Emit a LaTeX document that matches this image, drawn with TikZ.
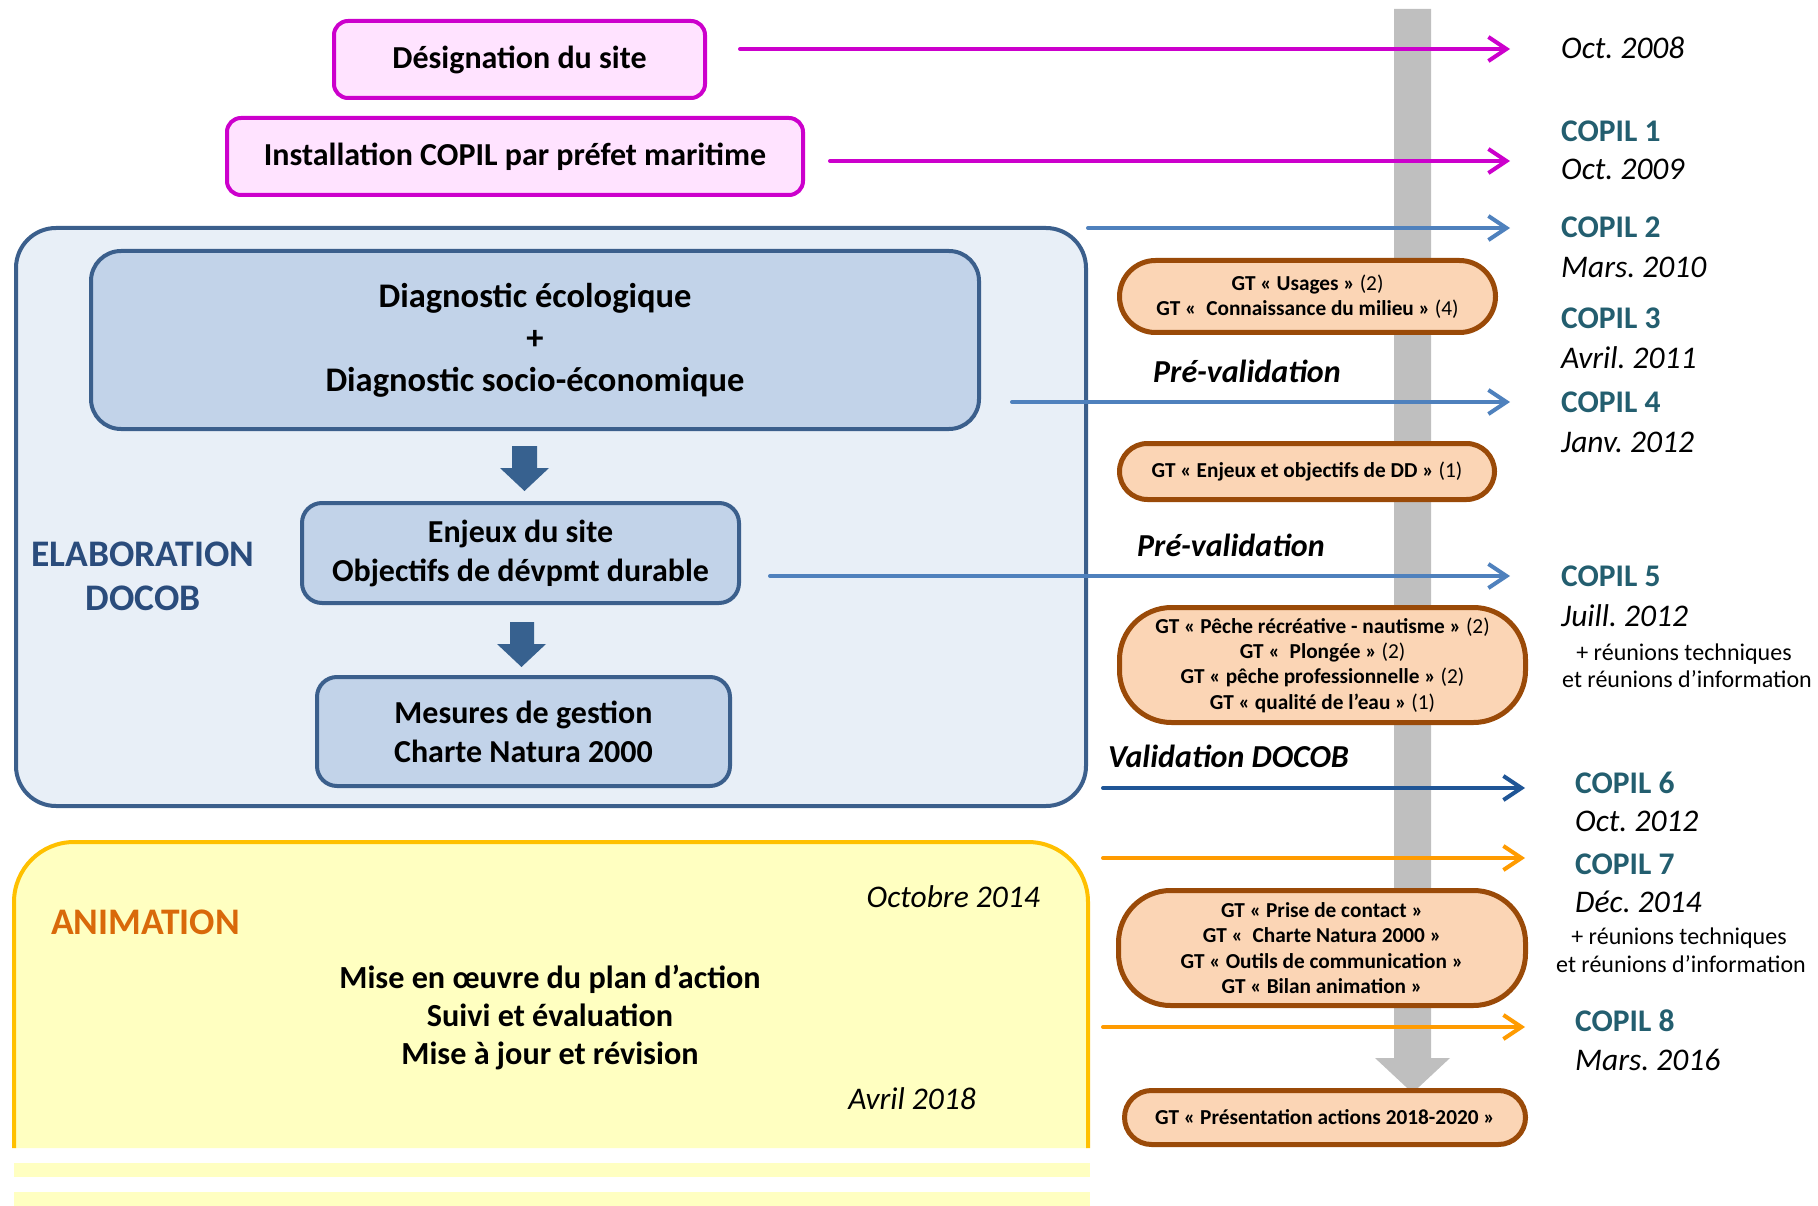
\documentclass[tikz,border=0pt]{standalone}
\usepackage{fontspec}
\setmainfont{Carlito}
\usetikzlibrary{arrows.meta}
\definecolor{magB}{HTML}{CC00CC}
\definecolor{magF}{HTML}{FFE3FF}
\definecolor{elabB}{HTML}{3B5F8C}
\definecolor{elabF}{HTML}{E8EFF7}
\definecolor{innF}{HTML}{C2D3E9}
\definecolor{darr}{HTML}{37618F}
\definecolor{lblue}{HTML}{4F81BD}
\definecolor{dblue}{HTML}{1F5596}
\definecolor{orng}{HTML}{FF9B00}
\definecolor{barG}{HTML}{BFBFBF}
\definecolor{gtB}{HTML}{9A4A08}
\definecolor{gtF}{HTML}{FBD5B5}
\definecolor{copilT}{HTML}{235E6F}
\definecolor{elabT}{HTML}{2A4C7C}
\definecolor{animT}{HTML}{D9690A}
\definecolor{yelB}{HTML}{FFC000}
\definecolor{yelF}{HTML}{FFFFC1}
\begin{document}
\frenchspacing
\begin{tikzpicture}[x=1pt,y=-1pt,
  bigtxt/.style={font=\fontsize{32}{39}\selectfont\bfseries, align=center},
  magbox/.style={draw=magB, fill=magF, line width=4pt, rounded corners=14pt, inner sep=0pt, bigtxt},
  innbox/.style={draw=elabB, fill=innF, line width=4pt, inner sep=0pt, bigtxt},
  gtbox/.style={draw=gtB, fill=gtF, line width=5pt, inner sep=0pt, align=center, font=\fontsize{21.3}{25.3}\selectfont},
  tl/.style={-{Straight Barb[length=18pt,width=24pt]}, line width=4pt, line cap=round},
  datelbl/.style={anchor=base west, inner sep=0pt, font=\fontsize{31.5}{38}\selectfont\itshape},
  copil/.style={anchor=base west, inner sep=0pt, font=\fontsize{31.5}{38}\selectfont\bfseries, text=copilT},
  reun/.style={anchor=base, inner sep=0pt, font=\fontsize{24}{27}\selectfont},
  phase/.style={anchor=base west, inner sep=0pt, font=\fontsize{32}{38}\selectfont\bfseries\itshape}
]
\useasboundingbox (0,0) rectangle (1818,1206);

% timeline bar
\fill[barG] (1394,9) -- (1431,9) -- (1431,1058) -- (1450,1058) -- (1412.5,1093) -- (1375,1058) -- (1394,1058) -- cycle;

% top magenta boxes
\node[magbox, minimum width=371pt, minimum height=77pt] (desig) at (519.5,59.5) {Désignation du site};
\node[magbox, minimum width=576pt, minimum height=77pt] (inst) at (515,156.5) {Installation COPIL par préfet maritime};

% elaboration box
\node[draw=elabB, fill=elabF, line width=4pt, rounded corners=40pt, minimum width=1070pt, minimum height=578pt] (elab) at (551,517) {};
\node[innbox, rounded corners=30pt, minimum width=888pt, minimum height=178pt, font=\fontsize{34.5}{42}\selectfont\bfseries] (diag) at (535,340) {Diagnostic écologique\\+\\Diagnostic socio-économique};
\node[innbox, rounded corners=20pt, minimum width=437pt, minimum height=100pt] (enj) at (520.5,553) {Enjeux du site\\Objectifs de dévpmt durable};
\node[innbox, rounded corners=20pt, minimum width=413pt, minimum height=109pt] (mes) at (523.5,731.5) {Mesures de gestion\\Charte Natura 2000};
\fill[darr] (512,446) -- (537,446) -- (537,468) -- (549,468) -- (524.5,491) -- (500,468) -- (512,468) -- cycle;
\fill[darr] (510,622) -- (534,622) -- (534,644) -- (546,644) -- (521.5,667) -- (497,644) -- (510,644) -- cycle;
\node[font=\fontsize{37.5}{44}\selectfont\bfseries, text=elabT, align=center, inner sep=0pt] (elabl) at (143,576) {ELABORATION\\DOCOB};

% animation box
\path[fill=yelF, draw=yelB, line width=4pt] (14,1148) [rounded corners=60pt] -- (14,842) -- (1088,842) -- (1088,1148);
\fill[yelF] (14,1163) rectangle (1090,1177);
\fill[yelF] (14,1192) rectangle (1090,1206);
\node[anchor=base west, inner sep=0pt, font=\fontsize{37.5}{44}\selectfont\bfseries, text=animT] (animl) at (51,934) {ANIMATION};
\node[anchor=base east, inner sep=0pt, font=\fontsize{31.5}{38}\selectfont\itshape] (oct14) at (1040,907) {Octobre 2014};
\node[anchor=base east, inner sep=0pt, font=\fontsize{31.5}{38}\selectfont\itshape] (avr18) at (976,1109) {Avril 2018};
\node[font=\fontsize{32.2}{38}\selectfont\bfseries, align=center, inner sep=0pt] (animt) at (550,1017) {Mise en œuvre du plan d’action\\Suivi et évaluation\\Mise à jour et révision};

% GT boxes
\node[gtbox, rounded corners=36pt, minimum width=376pt, minimum height=72pt] (gt1) at (1307.5,296.5) {\textbf{GT « Usages »} (2)\\\textbf{GT «\ \ Connaissance du milieu »} (4)};
\node[gtbox, rounded corners=28pt, minimum width=375pt, minimum height=56pt] (gt2) at (1307,471.5) {\textbf{GT « Enjeux et objectifs de DD »} (1)};
\node[gtbox, rounded corners=52pt, minimum width=406pt, minimum height=115pt] (gt3) at (1322.5,665) {\textbf{GT « Pêche récréative - nautisme »} (2)\\\textbf{GT «\ \ Plongée »} (2)\\\textbf{GT « pêche professionnelle »} (2)\\\textbf{GT « qualité de l’eau »} (1)};
\node[gtbox, rounded corners=52pt, minimum width=407pt, minimum height=115pt, font=\fontsize{21.3}{25.3}\selectfont\bfseries] (gt4) at (1322,948) {GT « Prise de contact »\\GT «\ \ Charte Natura 2000 »\\GT « Outils de communication »\\GT « Bilan animation »};
\node[gtbox, rounded corners=27pt, minimum width=401pt, minimum height=54pt, font=\fontsize{21.3}{25.3}\selectfont\bfseries] (gt5) at (1325,1117.5) {GT « Présentation actions 2018-2020 »};

% phase labels
\node[phase] (pv1) at (1153,382) {Pré-validation};
\node[phase] (pv2) at (1137,556) {Pré-validation};
\node[phase] (vd) at (1108,767) {Validation DOCOB};

% right labels
\node[datelbl] (d0) at (1561,59) {Oct. 2008};
\node[copil] (c1) at (1561,142) {COPIL 1};
\node[datelbl] (d1) at (1561,180) {Oct. 2009};
\node[copil] (c2) at (1561,238) {COPIL 2};
\node[datelbl] (d2) at (1561,278) {Mars. 2010};
\node[copil] (c3) at (1561,329) {COPIL 3};
\node[datelbl] (d3) at (1561,368) {Avril. 2011};
\node[copil] (c4) at (1561,412) {COPIL 4};
\node[datelbl] (d4) at (1561,452) {Janv. 2012};
\node[copil] (c5) at (1561,586) {COPIL 5};
\node[datelbl] (d5) at (1561,626) {Juill. 2012};
\node[reun] (r5a) at (1684,660) {+ réunions techniques};
\node[reun] (r5b) at (1687,687) {et réunions d’information};
\node[copil] (c6) at (1575,793) {COPIL 6};
\node[datelbl] (d6) at (1575,831) {Oct. 2012};
\node[copil] (c7) at (1575,874) {COPIL 7};
\node[datelbl] (d7) at (1575,912) {Déc. 2014};
\node[reun] (r7a) at (1679,944) {+ réunions techniques};
\node[reun] (r7b) at (1681,972) {et réunions d’information};
\node[copil] (c8) at (1575,1031) {COPIL 8};
\node[datelbl] (d8) at (1575,1070) {Mars. 2016};

% arrow end points
\coordinate (s0) at (740,49);   \coordinate (e0) at (1510,49);
\coordinate (s1) at (830,161);  \coordinate (e1) at (1510,161);
\coordinate (s2) at (1088,228); \coordinate (e2) at (1510,228);
\coordinate (s4) at (1012,402); \coordinate (e4) at (1510,402);
\coordinate (s5) at (770,576);  \coordinate (e5) at (1510,576);
\coordinate (s6) at (1103,788); \coordinate (e6) at (1525,788);
\coordinate (s7) at (1103,858); \coordinate (e7) at (1525,858);
\coordinate (s8) at (1103,1027);\coordinate (e8) at (1525,1027);

\draw[tl, magB] (s0) -- (e0);
\draw[tl, magB] (s1) -- (e1);
\draw[tl, lblue] (s2) -- (e2);
\draw[tl, lblue] (s4) -- (e4);
\draw[tl, lblue] (s5) -- (e5);
\draw[tl, dblue] (s6) -- (e6);
\draw[tl, orng] (s7) -- (e7);
\draw[tl, orng] (s8) -- (e8);
\end{tikzpicture}
\end{document}
